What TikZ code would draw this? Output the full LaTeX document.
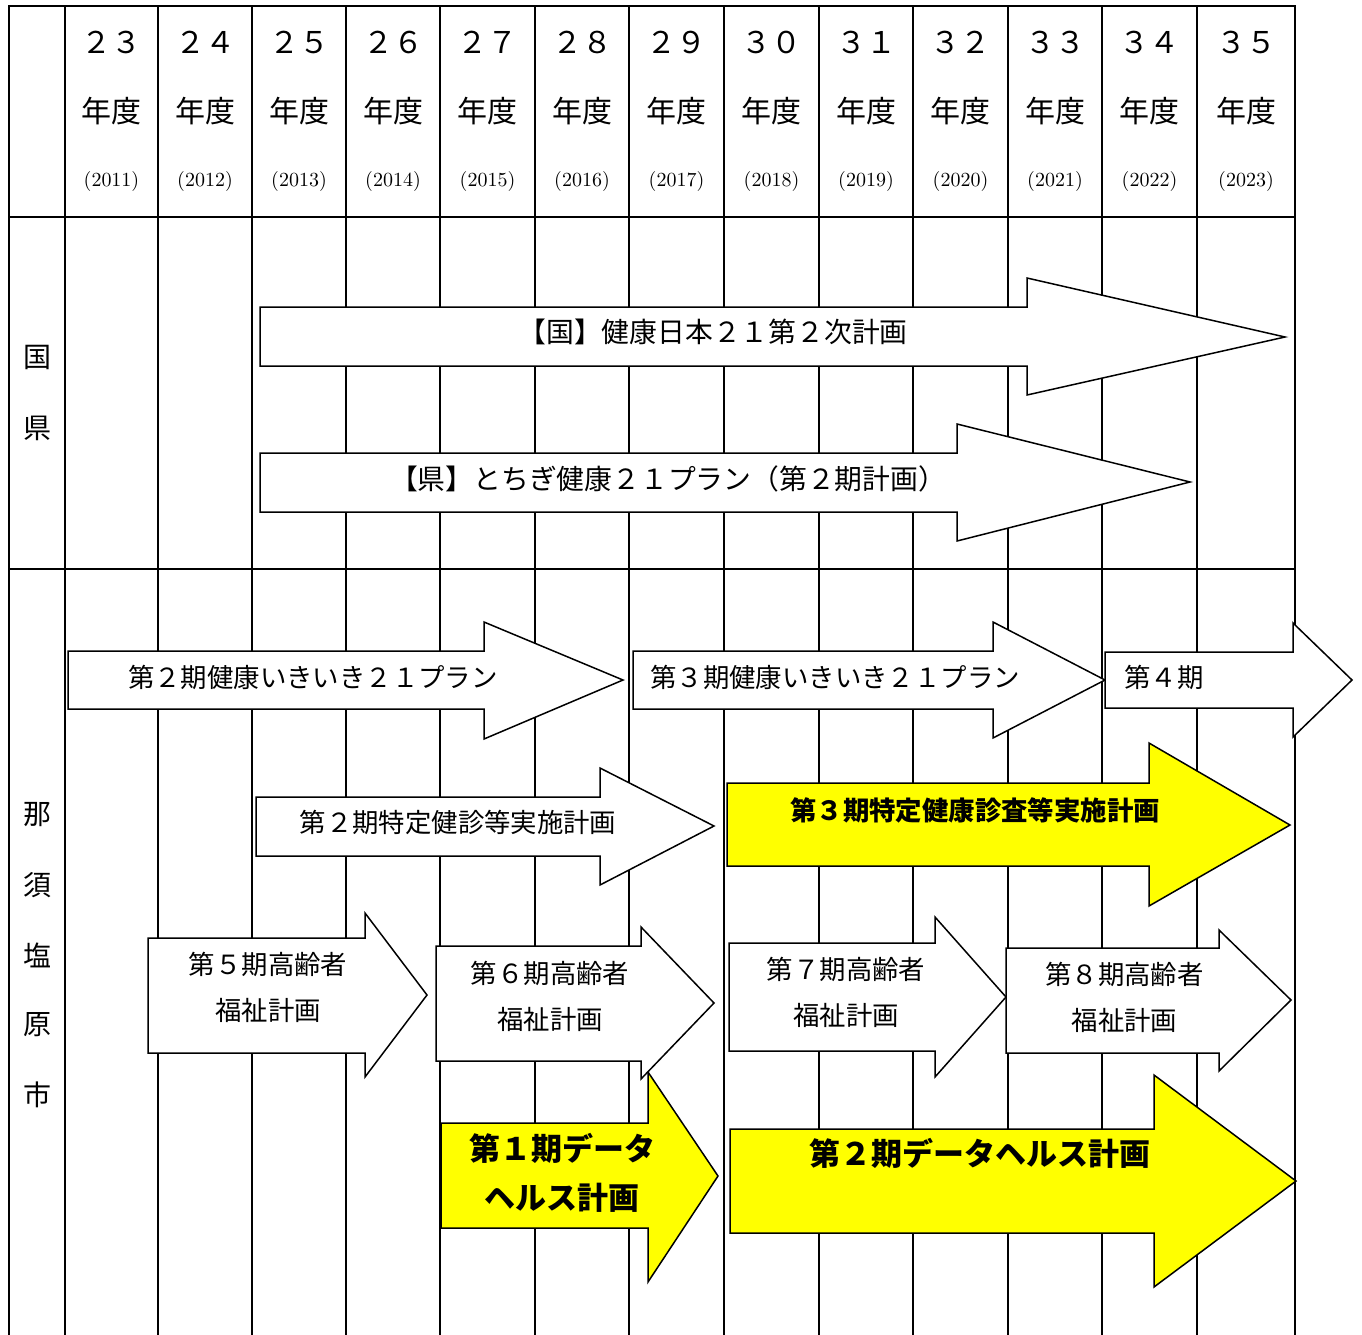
\documentclass[tikz,border=0pt]{standalone}
\usepackage{fontspec}
\newfontfamily\jp{Noto Sans CJK JP}
\definecolor{arrowyellow}{RGB}{255,255,0}
\newcommand\ArrowShape[9]{\draw[#9] (#1,#2) -- (#4,#2) -- (#4,#5) -- (#7,#8) -- (#4,#6) -- (#4,#3) -- (#1,#3) -- cycle;}
\begin{document}
\begin{tikzpicture}[x=0.5pt,y=-0.5pt,
  gridline/.style={line width=1pt,black},
  whitearrow/.style={draw=black,fill=white,line width=0.75pt,line join=miter},
  yellowarrow/.style={draw=black,fill=arrowyellow,line width=0.75pt,line join=miter},
  hd/.style={inner sep=0pt,font=\jp\fontsize{15}{18}\selectfont},
  yr/.style={inner sep=0pt,font=\fontsize{10}{12}\selectfont},
  rowlbl/.style={inner sep=0pt,font=\jp\fontsize{14}{16}\selectfont},
  arrtxt/.style={inner sep=0pt,align=center,font=\jp\fontsize{13.2}{23}\selectfont},
  widetxt/.style={inner sep=0pt,align=center,font=\jp\fontsize{13.9}{16}\selectfont},
  boldtxt/.style={inner sep=0pt,align=center,font=\jp\bfseries\fontsize{13.2}{16}\selectfont},
  bigtxt/.style={inner sep=0pt,align=center,font=\jp\bfseries\fontsize{15.5}{24.5}\selectfont}]
\useasboundingbox (0,0) rectangle (1362,1335);
\fill[white] (0,0) rectangle (1362,1335);
% table grid
\draw[gridline] (9,1335) -- (9,6) -- (1295,6) -- (1295,1335);
\foreach \x in {65,158,252,346,440,535,629,724,819,913,1008,1102,1197}
  \draw[gridline] (\x,6) -- (\x,1335);
\draw[gridline] (9,217) -- (1295,217);
\draw[gridline] (9,569) -- (1295,569);
% header
\foreach \c/\n/\y [count=\k] in {111.5/２３/2011,205/２４/2012,299/２５/2013,393/２６/2014,487.5/２７/2015,582/２８/2016,676.5/２９/2017,771.5/３０/2018,866/３１/2019,960.5/３２/2020,1055/３３/2021,1149.5/３４/2022,1246/３５/2023}{
  \node[hd] (num\k) at (\c,42) {\n};
  \node[hd] (nendo\k) at (\c,111) {年度};
  \node[yr] (year\k) at (\c,181) {(\y)};
}
% row labels
\node[rowlbl] (lkuni) at (38,357) {国};
\node[rowlbl] (lken) at (38,428) {県};
\node[rowlbl] (lna) at (38,815) {那};
\node[rowlbl] (lsu) at (38,885) {須};
\node[rowlbl] (lshio) at (38,955) {塩};
\node[rowlbl] (lhara) at (38,1025) {原};
\node[rowlbl] (lshi) at (38,1095) {市};
% arrows
\ArrowShape{260}{307}{366}{1027}{278}{395}{1285}{337}{whitearrow}
\node[widetxt] (kuni) at (713,332) {【国】健康日本２１第２次計画};
\ArrowShape{260}{453}{512}{957}{424}{541}{1190}{482}{whitearrow}
\node[widetxt] (ken) at (668,479) {【県】とちぎ健康２１プラン（第２期計画）};
\ArrowShape{68}{651}{709}{484}{622}{739}{623}{680}{whitearrow}
\node[arrtxt] (p2) at (313,677) {第２期健康いきいき２１プラン};
\ArrowShape{633}{651}{709}{993}{622}{738}{1105}{680}{whitearrow}
\node[arrtxt] (p3) at (835,677) {第３期健康いきいき２１プラン};
\ArrowShape{1105}{652}{708}{1293}{623}{737}{1352}{680}{whitearrow}
\node[arrtxt] (p4) at (1164,677) {第４期};
\ArrowShape{256}{797}{856}{600}{768}{885}{714}{826}{whitearrow}
\node[arrtxt] (t2) at (458,822) {第２期特定健診等実施計画};
\ArrowShape{727}{783}{866}{1149}{743}{906}{1290}{825}{yellowarrow}
\node[boldtxt] (t3) at (975,810) {第３期特定健康診査等実施計画};
\ArrowShape{148}{938}{1053}{365}{913}{1077}{427}{995}{whitearrow}
\node[arrtxt] (e5) at (268,987.5) {第５期高齢者\\福祉計画};
\ArrowShape{441}{1123}{1228}{648}{1072}{1282}{718}{1176}{yellowarrow}
\node[bigtxt] (d1) at (562,1172.5) {第１期データ\\ヘルス計画};
\ArrowShape{436}{946}{1061}{641}{927}{1079}{714}{1003}{whitearrow}
\node[arrtxt] (e6) at (550,996) {第６期高齢者\\福祉計画};
\ArrowShape{729}{943}{1051}{935}{917}{1077}{1006}{997}{whitearrow}
\node[arrtxt] (e7) at (846,992.5) {第７期高齢者\\福祉計画};
\ArrowShape{1006}{948}{1053}{1219}{930}{1071}{1291}{1000}{whitearrow}
\node[arrtxt] (e8) at (1124.5,997) {第８期高齢者\\福祉計画};
\ArrowShape{730}{1129}{1233}{1154}{1075}{1287}{1296}{1181}{yellowarrow}
\node[bigtxt] (d2) at (980,1153) {第２期データヘルス計画};
\end{tikzpicture}
\end{document}
